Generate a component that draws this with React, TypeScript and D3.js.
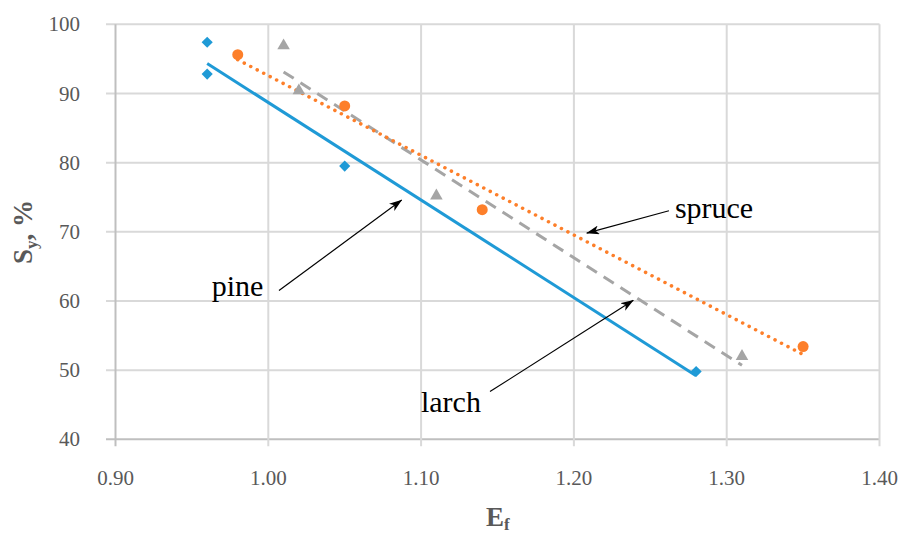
import React from "react";
import * as d3 from "d3";

const pineE = [0.96, 0.96, 1.05, 1.28];
const pineS = [97.4, 92.8, 79.5, 49.8];
const spruceE = [0.98, 1.05, 1.14, 1.35];
const spruceS = [95.6, 88.2, 73.2, 53.4];
const larchE = [1.01, 1.02, 1.11, 1.31];
const larchS = [96.9, 90.4, 75.2, 52.0];

const xTicks = [0.9, 1.0, 1.1, 1.2, 1.3, 1.4];
const yTicks = [40, 50, 60, 70, 80, 90, 100];

// annotation labels with arrows (data coordinates)
const notes = [
  { label: "pine", text: [0.963, 60.7], from: [1.007, 61.5], to: [1.0873, 74.6] },
  { label: "spruce", text: [1.2661, 72.0], from: [1.2622, 73.05], to: [1.2084, 69.8] },
  { label: "larch", text: [1.0999, 43.9], from: [1.1451, 46.9], to: [1.2389, 60.1] },
];

const width = 904;
const height = 536;

function fitLine(xs: number[], ys: number[]) {
  const mx = d3.mean(xs)!;
  const my = d3.mean(ys)!;
  let sxy = 0;
  let sxx = 0;
  xs.forEach((x, i) => {
    sxy += (x - mx) * (ys[i] - my);
    sxx += (x - mx) * (x - mx);
  });
  const slope = sxy / sxx;
  const [x0, x1] = d3.extent(xs) as [number, number];
  return [
    [x0, my + slope * (x0 - mx)],
    [x1, my + slope * (x1 - mx)],
  ];
}

export default function App() {
  const x = d3.scaleLinear().domain([0.9, 1.4]).range([115.5, 879.5]);
  const y = d3.scaleLinear().domain([40, 100]).range([439.3, 24.3]);

  const line = d3
    .line<number[]>()
    .x((d) => x(d[0]))
    .y((d) => y(d[1]));

  const series = [
    {
      name: "pine",
      e: pineE,
      s: pineS,
      color: "#1f9ad6",
      dash: null as string | null,
      cap: "butt",
      symbol: d3.symbol(d3.symbolSquare, 62)(),
      rotate: 45,
    },
    {
      name: "larch",
      e: larchE,
      s: larchS,
      color: "#a5a5a5",
      dash: "12 8",
      cap: "butt",
      symbol: d3.symbol(d3.symbolTriangle, 68)(),
      rotate: 0,
    },
    {
      name: "spruce",
      e: spruceE,
      s: spruceS,
      color: "#fd7f2a",
      dash: "0.1 7.2",
      cap: "round",
      symbol: d3.symbol(d3.symbolCircle, 95)(),
      rotate: 0,
    },
  ];

  const tickColor = "#595959";
  const gridColor = "#d9d9d9";
  const font = "'Liberation Serif', 'Times New Roman', serif";

  return (
    <svg
      width={width}
      height={height}
      style={{ position: "absolute", left: 0, top: 0, background: "#fff" }}
    >
      <defs>
        <marker
          id="arrow"
          viewBox="0 0 13 9"
          refX="12.5"
          refY="4.5"
          markerWidth="13"
          markerHeight="9"
          markerUnits="userSpaceOnUse"
          orient="auto"
        >
          <path d="M0,0 L13,4.5 L0,9 L3.5,4.5 Z" fill="#000" />
        </marker>
      </defs>

      {/* grid */}
      {yTicks.map((t) => (
        <line
          key={"gy" + t}
          x1={x(0.9) - 9.5}
          x2={x(1.4)}
          y1={y(t)}
          y2={y(t)}
          stroke={t === 40 ? "#bfbfbf" : gridColor}
          strokeWidth={2}
        />
      ))}
      {xTicks.map((t) => (
        <line
          key={"gx" + t}
          x1={x(t)}
          x2={x(t)}
          y1={y(100)}
          y2={y(40) + 7}
          stroke={t === 0.9 ? "#bfbfbf" : gridColor}
          strokeWidth={2}
        />
      ))}

      {/* tick labels */}
      {yTicks.map((t) => (
        <text
          key={"ly" + t}
          x={80}
          y={y(t)}
          dy="0.34em"
          textAnchor="end"
          fontFamily={font}
          fontSize={21}
          fill={tickColor}
        >
          {t}
        </text>
      ))}
      {xTicks.map((t) => (
        <text
          key={"lx" + t}
          x={x(t)}
          y={485}
          textAnchor="middle"
          fontFamily={font}
          fontSize={21}
          fill={tickColor}
        >
          {t.toFixed(2)}
        </text>
      ))}

      {/* axis titles */}
      <text
        x={486}
        y={526}
        fontFamily={font}
        fontSize={27}
        fontWeight="bold"
        fill={tickColor}
      >
        E
        <tspan fontSize={17} dy={4}>
          f
        </tspan>
      </text>
      <text
        transform={`translate(32, 232) rotate(-90)`}
        textAnchor="middle"
        fontFamily={font}
        fontSize={27}
        fontWeight="bold"
        fill={tickColor}
      >
        S
        <tspan fontSize={17} dy={5}>
          y
        </tspan>
        <tspan dy={-5}>, %</tspan>
      </text>

      {/* trendlines */}
      {series.map((s) => (
        <path
          key={"t" + s.name}
          d={line(fitLine(s.e, s.s)) || ""}
          fill="none"
          stroke={s.color}
          strokeWidth={s.name === "spruce" ? 3.5 : 3}
          strokeDasharray={s.dash || undefined}
          strokeLinecap={s.cap as any}
        />
      ))}

      {/* markers */}
      {series.map((s) =>
        s.e.map((e, i) => (
          <path
            key={s.name + i}
            d={s.symbol || ""}
            transform={`translate(${x(e)},${y(s.s[i])}) rotate(${s.rotate})`}
            fill={s.color}
          />
        ))
      )}

      {/* annotations */}
      {notes.map((n) => (
        <g key={n.label}>
          <line
            x1={x(n.from[0])}
            y1={y(n.from[1])}
            x2={x(n.to[0])}
            y2={y(n.to[1])}
            stroke="#000"
            strokeWidth={1.2}
            markerEnd="url(#arrow)"
          />
          <text
            x={x(n.text[0])}
            y={y(n.text[1])}
            fontFamily={font}
            fontSize={30}
            fill="#000"
          >
            {n.label}
          </text>
        </g>
      ))}
    </svg>
  );
}
